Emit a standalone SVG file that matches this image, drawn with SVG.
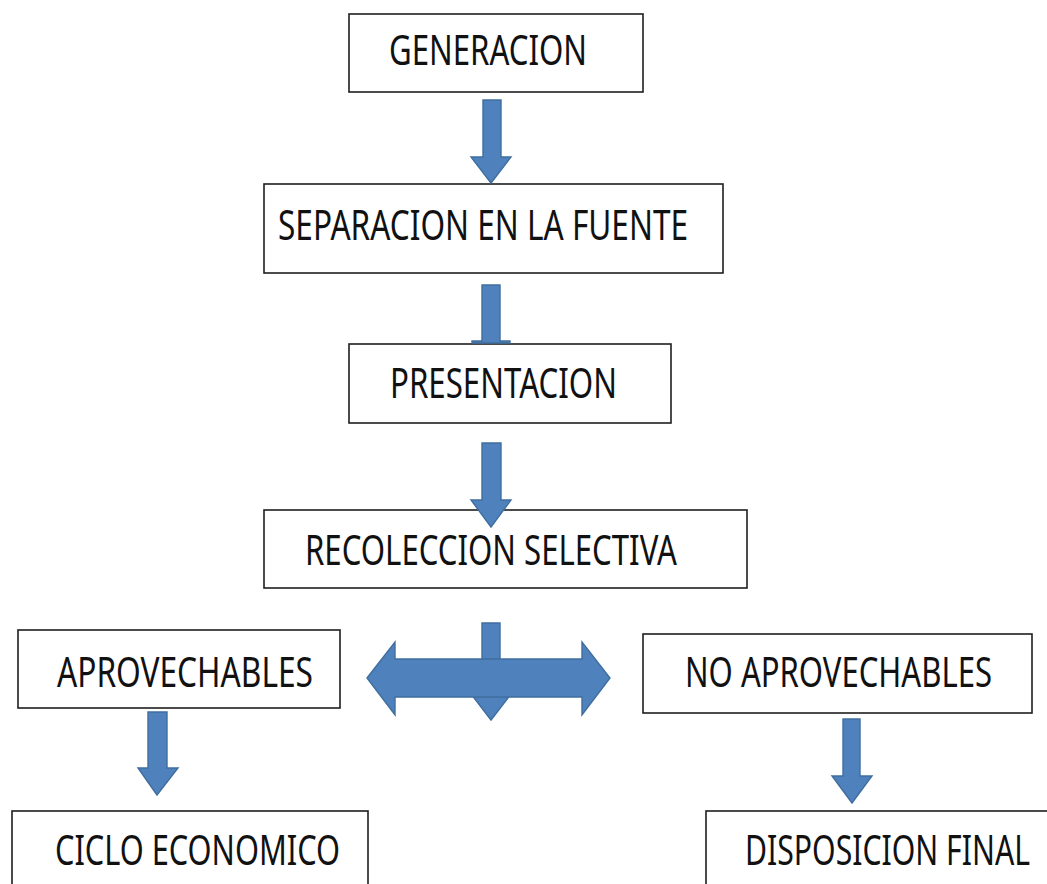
<svg xmlns="http://www.w3.org/2000/svg" width="1047" height="884" viewBox="0 0 1047 884">
<style>
.box{fill:#fff;stroke:#1e1e1e;stroke-width:1.6}
.lbl{font-family:"Noto Sans","Open Sans",sans-serif;font-size:41px;fill:#111}
.arr{fill:#4F81BD;stroke:#3F6E9E;stroke-width:1.4;stroke-linejoin:miter}
</style>
<rect width="1047" height="884" fill="#fff"/>
<g id="generacion"><rect class="box" x="349" y="14" width="294" height="78"/><text class="lbl" transform="translate(389 65) scale(0.75 1)" x="0" y="0" textLength="264" lengthAdjust="spacingAndGlyphs">GENERACION</text></g>
<g id="separacion"><rect class="box" x="264" y="184" width="459" height="89"/><text class="lbl" transform="translate(278 240) scale(0.75 1)" x="0" y="0" textLength="546.7" lengthAdjust="spacingAndGlyphs">SEPARACION EN LA FUENTE</text></g>
<g id="presentacion"><rect class="box" x="349" y="344" width="322" height="79"/><text class="lbl" transform="translate(390 398) scale(0.75 1)" x="0" y="0" textLength="302.7" lengthAdjust="spacingAndGlyphs">PRESENTACION</text></g>
<g id="recoleccion"><rect class="box" x="264" y="510" width="483" height="78"/><text class="lbl" transform="translate(305 565) scale(0.75 1)" x="0" y="0" textLength="496" lengthAdjust="spacingAndGlyphs">RECOLECCION SELECTIVA</text></g>
<g id="aprovechables"><rect class="box" x="18" y="630" width="322" height="78"/><text class="lbl" transform="translate(57 687) scale(0.75 1)" x="0" y="0" textLength="341.3" lengthAdjust="spacingAndGlyphs">APROVECHABLES</text></g>
<g id="no-aprovechables"><rect class="box" x="643" y="634" width="389" height="79"/><text class="lbl" transform="translate(685 687) scale(0.75 1)" x="0" y="0" textLength="409.3" lengthAdjust="spacingAndGlyphs">NO APROVECHABLES</text></g>
<g id="ciclo"><rect class="box" x="12" y="811" width="356" height="100"/><text class="lbl" transform="translate(55 865) scale(0.75 1)" x="0" y="0" textLength="380" lengthAdjust="spacingAndGlyphs">CICLO ECONOMICO</text></g>
<g id="disposicion"><rect class="box" x="706" y="811" width="360" height="100"/><text class="lbl" transform="translate(745 865) scale(0.75 1)" x="0" y="0" textLength="380" lengthAdjust="spacingAndGlyphs">DISPOSICION FINAL</text></g>
<g id="connectors">
<polygon class="arr" points="483,100 501,100 501,157 511,157 491,183 471,157 483,157"/>
<polygon class="arr" points="482,285 500,285 500,341 510,341 510,343 472,343 472,341 482,341"/>
<polygon class="arr" points="482,443 501,443 501,500 511,500 491,527 471,500 482,500"/>
<polygon class="arr" points="482,623 500,623 500,694 511,694 491,720 471,694 482,694"/>
<polygon class="arr" points="367,678 395,642 395,659 582,659 582,642 610,678 582,715 582,697 395,697 395,715"/>
<polygon class="arr" points="148,712 167,712 167,768 178,768 157,795 138,768 148,768"/>
<polygon class="arr" points="843,719 860,719 860,776 872,776 852,803 832,776 843,776"/>
</g>
</svg>
